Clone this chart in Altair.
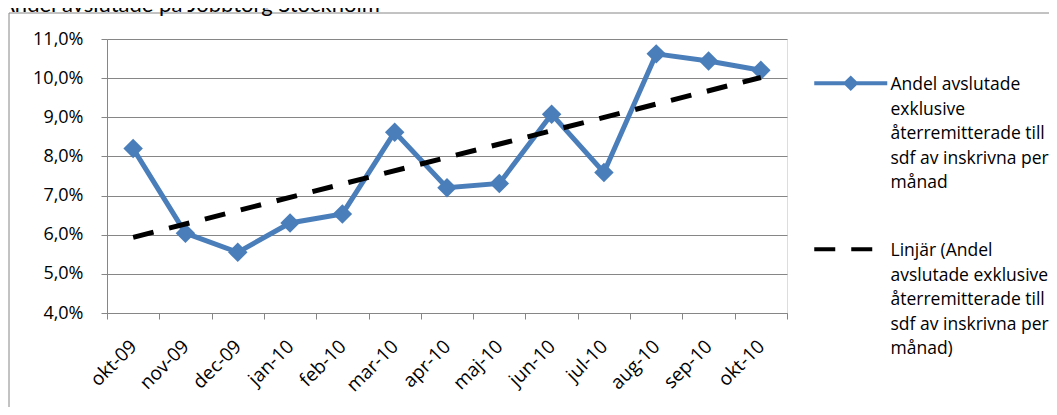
import json
import altair as alt
import pandas as pd

MONTHS = ["okt-09", "nov-09", "dec-09", "jan-10", "feb-10", "mar-10", "apr-10",
          "maj-10", "jun-10", "jul-10", "aug-10", "sep-10", "okt-10"]
VALUES = [8.20, 6.04, 5.55, 6.30, 6.53, 8.62, 7.20, 7.31, 9.08, 7.59, 10.62, 10.44, 10.20]
Y_TICKS = [4, 5, 6, 7, 8, 9, 10, 11]

SERIES = "Andel avslutade exklusive återremitterade till sdf av inskrivna per månad"
TREND = "Linjär (Andel avslutade exklusive återremitterade till sdf av inskrivna per månad)"
SERIES_LINES = ["Andel avslutade", "exklusive", "återremitterade till", "sdf av inskrivna per", "månad"]
TREND_LINES = ["Linjär (Andel", "avslutade exklusive", "återremitterade till", "sdf av inskrivna per", "månad)"]
TITLE = "Andel avslutade på Jobbtorg Stockholm"

BLUE = "#4A7EBB"
GRAY = "#868686"
FONT = "Open Sans"
FS = 18
LEG_FS = 17.5

df = pd.DataFrame({"month": MONTHS, "value": VALUES, "series": SERIES, "trend": TREND})
months_js = json.dumps(MONTHS, ensure_ascii=False)

base = alt.Chart(df)

x_enc = alt.X(
    "month:O", sort=MONTHS, bandPosition=0.5,
    scale=alt.Scale(type="band", paddingInner=0, paddingOuter=0),
    axis=alt.Axis(title=None, labelAngle=-45, labelAlign="right", labelBaseline="middle",
                  tickBand="extent", grid=False, domainColor=GRAY, tickColor=GRAY,
                  tickSize=6, labelFont=FONT, labelFontSize=19, labelColor="black",
                  labelPadding=24),
)
y_enc = alt.Y(
    "value:Q",
    scale=alt.Scale(domain=[4, 11], nice=False, zero=False),
    axis=alt.Axis(title=None, values=Y_TICKS,
                  labelExpr="replace(format(datum.value, '.1f'), '.', ',') + '%'",
                  grid=True, gridColor=GRAY, domainColor=GRAY, tickColor=GRAY,
                  tickSize=6, labelPadding=18, labelFont=FONT, labelFontSize=FS,
                  labelColor="black"),
)

frame = alt.Chart(pd.DataFrame({"k": [0]})).mark_rect(
    fillOpacity=0, stroke=GRAY, strokeWidth=1
).encode(x=alt.value(-98), y=alt.value(-26), x2=alt.value(1400), y2=alt.value(800))

title = alt.Chart(pd.DataFrame({"k": [0]})).mark_text(
    align="left", baseline="alphabetic", font="Lato", fontSize=22, color="black"
).encode(x=alt.value(-107), y=alt.value(-27), text=alt.value(TITLE))

line = base.mark_line(strokeWidth=5).encode(
    x=x_enc, y=y_enc,
    color=alt.Color("series:N", scale=alt.Scale(domain=[SERIES], range=[BLUE]),
                    legend=alt.Legend(
                        orient="none", legendX=735, legendY=28.5, title=None, padding=0,
                        symbolType="M-7.3,1.4L7.3,1.4M-1,1.4L0,0.4L1,1.4L0,2.4Z", symbolSize=100,
                        symbolStrokeWidth=4, symbolFillColor=BLUE,
                        labelExpr=json.dumps(SERIES_LINES, ensure_ascii=False),
                        labelFont=FONT, labelFontSize=LEG_FS, labelColor="black",
                        labelOffset=31, labelLimit=400, labelBaseline="top")),
)

points = base.mark_point(shape="diamond", filled=True, size=380, color=BLUE, opacity=1).encode(
    x=x_enc, y=y_enc
)

trend = base.transform_window(idx="row_number()").transform_regression(
    "idx", "value", groupby=["trend"]
).transform_calculate(
    month=f"{months_js}[datum.idx - 1]"
).mark_line(color="black", strokeWidth=5).encode(
    x=x_enc, y=y_enc,
    strokeDash=alt.StrokeDash("trend:N", scale=alt.Scale(domain=[TREND], range=[[21, 16]]),
                              legend=alt.Legend(
                                  orient="none", legendX=735, legendY=194.5, title=None, padding=0,
                                  symbolType="M-7.3,1.4L7.3,1.4", symbolSize=100,
                                  symbolStrokeWidth=4, symbolStrokeColor="black",
                                  labelExpr=json.dumps(TREND_LINES, ensure_ascii=False),
                                  labelFont=FONT, labelFontSize=LEG_FS, labelColor="black",
                                  labelOffset=31, labelLimit=400, labelBaseline="top")),
)

chart = alt.layer(frame, title, line, points, trend).properties(
    width=680, height=274,
    autosize=alt.AutoSizeParams(type="none"),
    padding={"left": 99, "top": 31, "right": 262, "bottom": 94},
).resolve_legend(color="independent", strokeDash="independent").configure_view(
    stroke=None
).configure(style={"guide-label": {"lineHeight": 24.5}})

chart.save("out.html", embed_options={"renderer": "svg", "actions": False})
